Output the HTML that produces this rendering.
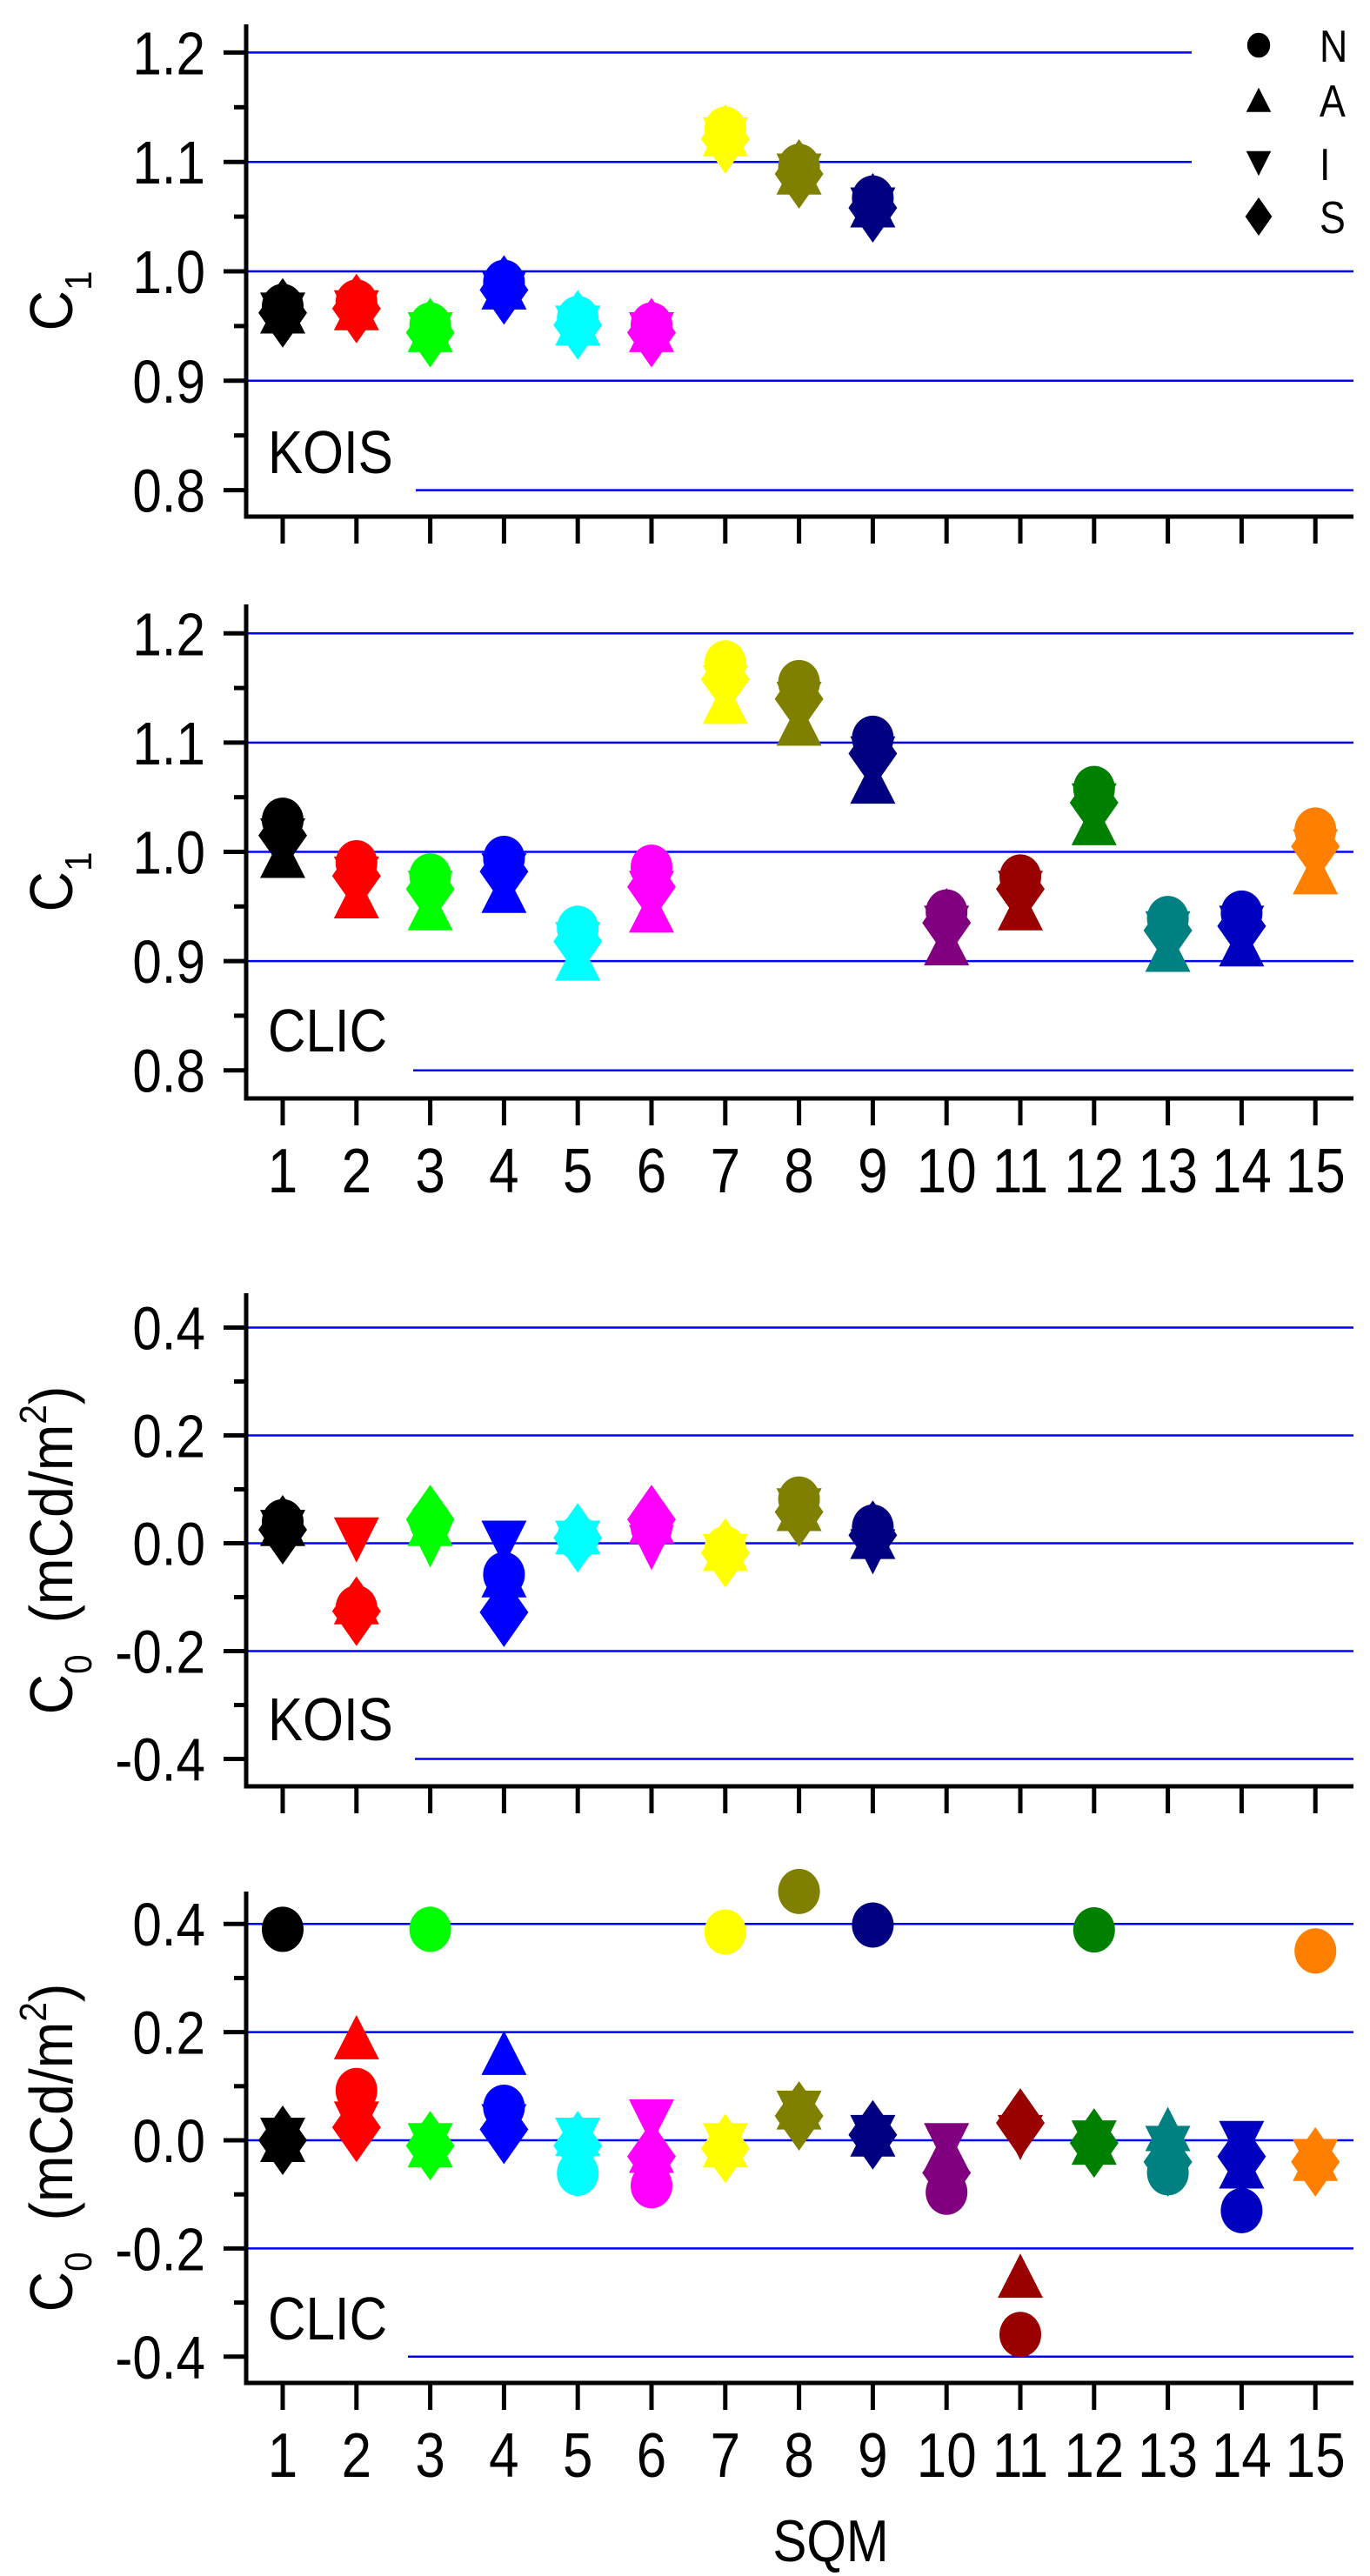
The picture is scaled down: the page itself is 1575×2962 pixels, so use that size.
<!DOCTYPE html>
<html>
<head>
<meta charset="utf-8">
<style>
html,body{margin:0;padding:0;background:#fff;}
svg{display:block;font-family:"Liberation Sans",Arial,sans-serif;}
</style>
</head>
<body>
<svg id="chart" width="1575" height="2962" viewBox="0 0 1575 2962" xmlns="http://www.w3.org/2000/svg"></svg>
<script>
// ---- data ----
const sqmLabels = ["1","2","3","4","5","6","7","8","9","10","11","12","13","14","15"];
const sqmColors = ["#000000","#ff0000","#00ff00","#0000ff","#00ffff","#ff00ff","#ffff00","#808000","#000080","#800080","#990000","#008000","#008080","#0000c0","#ff8000"];
const seriesNames = ["N","A","I","S"];

// Panel 1: C1 KOIS
const p1N = [0.968,0.972,0.951,0.990,0.957,0.951,1.130,1.096,1.067];
const p1A = [0.963,0.966,0.946,0.985,0.952,0.946,1.125,1.090,1.060];
const p1I = [0.960,0.962,0.942,0.980,0.948,0.942,1.120,1.087,1.056];
const p1S = [0.962,0.966,0.944,0.983,0.951,0.944,1.121,1.089,1.058];
// Panel 2: C1 CLIC
const p2N = [1.029,0.990,0.978,0.994,0.930,0.986,1.173,1.155,1.104,0.945,0.977,1.058,0.939,0.944,1.020];
const p2A = [0.996,0.959,0.948,0.964,0.902,0.946,1.137,1.117,1.064,0.916,0.948,1.026,0.910,0.915,0.981];
const p2I = [1.010,0.975,0.962,0.978,0.915,0.962,1.150,1.135,1.085,0.930,0.962,1.042,0.925,0.930,1.000];
const p2S = [1.015,0.978,0.966,0.982,0.918,0.968,1.158,1.140,1.090,0.935,0.966,1.045,0.928,0.932,1.005];
// Panel 3: C0 KOIS
const p3N = [0.040,-0.120,0.040,-0.058,0.010,0.030,-0.010,0.082,0.030];
const p3A = [0.035,-0.110,0.035,-0.060,0.020,0.040,-0.011,0.063,0.011];
const p3I = [0.020,0.006,-0.003,0.000,0.000,-0.008,-0.025,0.060,-0.016];
const p3S = [0.025,-0.126,0.044,-0.128,0.010,0.044,-0.018,0.058,0.015];
// Panel 4: C0 CLIC
const p4N = [0.390,0.092,0.390,0.061,-0.061,-0.084,0.385,0.460,0.398,-0.096,-0.359,0.389,-0.060,-0.130,0.350];
const p4A = [0.000,0.190,-0.010,0.161,0.011,-0.020,-0.010,0.060,0.010,-0.016,-0.251,-0.005,0.020,-0.049,-0.035];
const p4I = [0.000,0.030,-0.010,0.025,0.000,0.034,-0.010,0.050,0.005,-0.010,0.005,-0.005,-0.015,-0.006,-0.040];
const p4S = [0.000,0.024,-0.010,0.020,-0.010,-0.030,-0.015,0.045,0.010,-0.060,0.032,-0.005,-0.040,-0.030,-0.040];

const c1Ticks = ["1.2","1.1","1.0","0.9","0.8"];
const c1TickVals = [1.2,1.1,1.0,0.9,0.8];
const c1Minor = [1.15,1.05,0.95,0.85];
const c0Ticks = ["0.4","0.2","0.0","-0.2","-0.4"];
const c0TickVals = [0.4,0.2,0.0,-0.2,-0.4];
const c0Minor = [0.3,0.1,-0.1,-0.3];

// ---- layout ----
const NS = "http://www.w3.org/2000/svg";
const svg = document.getElementById("chart");
const AX = 283, RIGHT = 1556;
const SQ = 0.86;
function xPos(i){ return 325 + i*84.8; }
function mk(tag, attrs, parent){
  const e = document.createElementNS(NS, tag);
  for (const k in attrs) e.setAttribute(k, attrs[k]);
  (parent||svg).appendChild(e);
  return e;
}
function squeeze(e, x){
  e.setAttribute("transform", `translate(${x} 0) scale(${SQ} 1) translate(${-x} 0)`);
}

const panels = [
  {name:"c1-kois", label:"KOIS", top:28, axisY:594, vRef:1.0, yRef:312, k:1258, ticks:c1Ticks, tickVals:c1TickVals, minor:c1Minor, lowGridStart:478, shortTop:[1.2,1.1], data:[p1N,p1A,p1I,p1S], xlabels:false, title:"C1", tagY:544},
  {name:"c1-clic", label:"CLIC", top:695, axisY:1263, vRef:1.0, yRef:979.5, k:1256, ticks:c1Ticks, tickVals:c1TickVals, minor:c1Minor, lowGridStart:475, shortTop:[], data:[p2N,p2A,p2I,p2S], xlabels:true, title:"C1", tagY:1209},
  {name:"c0-kois", label:"KOIS", top:1487, axisY:2054, vRef:0, yRef:1774.5, k:620, ticks:c0Ticks, tickVals:c0TickVals, minor:c0Minor, lowGridStart:477, shortTop:[], data:[p3N,p3A,p3I,p3S], xlabels:false, title:"C0", tagY:2001},
  {name:"c0-clic", label:"CLIC", top:2175, axisY:2740, vRef:0, yRef:2461, k:622, ticks:c0Ticks, tickVals:c0TickVals, minor:c0Minor, lowGridStart:469, shortTop:[], data:[p4N,p4A,p4I,p4S], xlabels:true, title:"C0", tagY:2690}
];

function marker(shape, cx, cy, color, s, parent){
  let e;
  if (shape === 0){
    e = mk("ellipse", {cx:cx, cy:cy, rx:24*s, ry:26*s, fill:color}, parent);
  } else if (shape === 1){
    e = mk("polygon", {points:`${cx},${cy-26*s} ${cx+26*s},${cy+25*s} ${cx-26*s},${cy+25*s}`, fill:color}, parent);
  } else if (shape === 2){
    e = mk("polygon", {points:`${cx-26*s},${cy-26*s} ${cx+26*s},${cy-26*s} ${cx},${cy+26*s}`, fill:color}, parent);
  } else {
    e = mk("polygon", {points:`${cx},${cy-40*s} ${cx+28*s},${cy} ${cx},${cy+40*s} ${cx-28*s},${cy}`, fill:color}, parent);
  }
  return e;
}

panels.forEach(function(p){
  const g = mk("g", {});
  
  
  const yv = v => p.yRef - (v - p.vRef)*p.k;

  p.tickVals.forEach(function(v, i){
    const y = yv(v);
    let x1 = AX, x2 = RIGHT;
    if (i === p.tickVals.length-1) x1 = p.lowGridStart;
    if (p.shortTop.indexOf(v) >= 0) x2 = 1370;
    const gl = mk("line", {x1:x1, x2:x2, y1:y, y2:y, stroke:"#0000ff", "stroke-width":2.5}, g);
    
    
  });

  const ya = mk("line", {x1:AX, x2:AX, y1:p.top, y2:p.axisY+2.5, stroke:"#000", "stroke-width":5}, g);
  
  
  const xa = mk("line", {x1:AX-2.5, x2:RIGHT, y1:p.axisY, y2:p.axisY, stroke:"#000", "stroke-width":5}, g);
  
  

  p.tickVals.forEach(function(v, i){
    const y = yv(v);
    mk("line", {x1:AX-26, x2:AX, y1:y, y2:y, stroke:"#000", "stroke-width":5}, g);
    const t = mk("text", {x:236, y:y+25, "text-anchor":"end", "font-size":70, fill:"#000"}, g);
    t.textContent = p.ticks[i];
    squeeze(t, 236);
    
    
  });
  p.minor.forEach(function(v){
    const y = yv(v);
    mk("line", {x1:AX-14, x2:AX, y1:y, y2:y, stroke:"#000", "stroke-width":5}, g);
  });

  sqmLabels.forEach(function(lab, i){
    const x = xPos(i);
    mk("line", {x1:x, x2:x, y1:p.axisY, y2:p.axisY+31, stroke:"#000", "stroke-width":5}, g);
    if (p.xlabels){
      const t = mk("text", {x:x, y:p.axisY+108, "text-anchor":"middle", "font-size":72, fill:"#000"}, g);
      t.textContent = lab;
      squeeze(t, x);
      
      
    }
  });

  const tag = mk("text", {x:308, y:p.tagY, "font-size":70, fill:"#000"}, g);
  tag.textContent = p.label;
  squeeze(tag, 308);
  
  

  const cy = (p.top + p.axisY)/2 + (p.title === "C1" ? 35 : 12);
  const tt = mk("text", {x:83, y:cy, "text-anchor":"middle", "font-size":70, fill:"#000", transform:`rotate(-90 83 ${cy}) translate(83 0) scale(0.92 1) translate(-83 0)`}, g);
  
  
  if (p.title === "C1"){
    tt.innerHTML = 'C<tspan font-size="44" dy="22">1</tspan>';
  } else {
    tt.innerHTML = 'C<tspan font-size="44" dy="22">0</tspan><tspan dy="-22" xml:space="preserve">  (mCd/m</tspan><tspan font-size="44" dy="-30">2</tspan><tspan dy="30">)</tspan>';
  }

  p.data.forEach(function(series, si){
    series.forEach(function(v, i){
      const m = marker(si, xPos(i), yv(v), sqmColors[i], 1, g);
      
      
    });
  });
});

const lg = mk("g", {});


const legendRows = [52,115,188,249];
seriesNames.forEach(function(n, i){
  const m = marker(i, 1447, legendRows[i], "#000", 0.55, lg);
  
  
  const t = mk("text", {x:1517, y:legendRows[i]+19, "font-size":52, fill:"#000"}, lg);
  t.textContent = n;
  squeeze(t, 1517);
  
  
});

const xt = mk("text", {x:955, y:2945, "text-anchor":"middle", "font-size":68, fill:"#000"});
xt.textContent = "SQM";
squeeze(xt, 955);


</script>
</body>
</html>
